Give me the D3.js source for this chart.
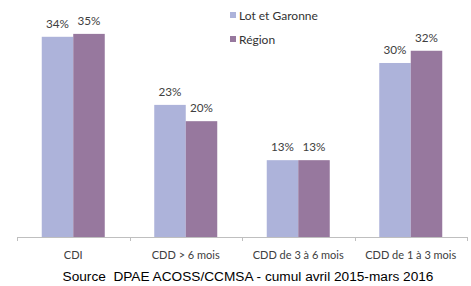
<!DOCTYPE html>
<html><head><meta charset="utf-8">
<script src="https://cdn.jsdelivr.net/npm/d3@7"></script>
<style>body{margin:0;background:#fff}svg{display:block}</style>
</head><body>
<script>
const categories = ["CDI", "CDD > 6 mois", "CDD de 3 à 6 mois", "CDD de 1 à 3 mois"];
const seriesNames = ["Lot et Garonne", "Région"];
const lotEtGaronne = [34.4, 22.7, 13.2, 29.9];
const region = [34.9, 19.9, 13.2, 32.0];
const colors = ["#adb3da", "#97789e"];
const sourceText = "Source  DPAE ACOSS/CCMSA - cumul avril 2015-mars 2016";

const W = 471, H = 286;
const svg = d3.select("body").append("svg").attr("width", W).attr("height", H);
const font = "Lato, 'Open Sans', sans-serif";

// fit a text selection's font size so that a reference node reaches a target width
function fitWidth(sel, refNode, base, target) {
  const w = refNode.getComputedTextLength();
  const fs = base * target / w;
  sel.attr("font-size", fs.toFixed(2));
}

const x = d3.scaleBand().domain(categories).range([17, 467]).paddingInner(0.44).paddingOuter(0.22);
const xs = d3.scaleBand().domain(seriesNames).range([0, x.bandwidth()]);
const y = d3.scaleLinear().domain([0, 40]).range([237, 237 - 40 * 5.82]);

const series = [lotEtGaronne, region];
const fmt = v => d3.format(".0f")(v) + "%";

const labelNodes = [];
series.forEach((vals, si) => {
  const g = svg.append("g");
  g.selectAll("rect").data(vals).join("rect")
    .attr("x", (d, i) => x(categories[i]) + xs(seriesNames[si]))
    .attr("y", d => y(d))
    .attr("width", xs.bandwidth())
    .attr("height", d => y(0) - y(d))
    .attr("fill", colors[si]);
  const t = g.selectAll("text").data(vals).join("text")
    .attr("class", "vlabel")
    .attr("x", (d, i) => x(categories[i]) + xs(seriesNames[si]) + xs.bandwidth() / 2)
    .attr("y", d => y(d) - 9)
    .attr("text-anchor", "middle")
    .attr("font-family", font).attr("font-size", 11).attr("fill", "#404040")
    .text(d => fmt(d));
});
const vlabels = svg.selectAll(".vlabel");
fitWidth(vlabels, vlabels.node(), 11, 23);

// axis
const step = x.step();
const x0 = x.range()[0];
svg.append("line").attr("x1", x0).attr("x2", x.range()[1]).attr("y1", y(0) + 0.5).attr("y2", y(0) + 0.5)
  .attr("stroke", "#bfbfbf").attr("stroke-width", 1);
d3.range(categories.length + 1).forEach(i => {
  const xx = Math.round(x0 + i * step) + 0.5;
  svg.append("line").attr("x1", xx).attr("x2", xx).attr("y1", y(0)).attr("y2", y(0) + 4)
    .attr("stroke", "#bfbfbf");
});
svg.selectAll(".cat").data(categories).join("text")
  .attr("class", "cat")
  .attr("x", d => x(d) + x.bandwidth() / 2)
  .attr("y", 259)
  .attr("text-anchor", "middle")
  .attr("font-family", font).attr("font-size", 11).attr("fill", "#404040")
  .text(d => d);

// legend
const legTexts = [];
seriesNames.forEach((n, i) => {
  svg.append("rect").attr("x", 230).attr("y", 12 + i * 24).attr("width", 6).attr("height", 6).attr("fill", colors[i]);
  legTexts.push(svg.append("text").attr("class", "leg").attr("x", 239).attr("y", 19.5 + i * 24)
    .attr("font-family", font).attr("font-size", 12).attr("fill", "#333").text(n));
});
const legSel = svg.selectAll(".leg");
fitWidth(legSel, legSel.node(), 12, 79);

const src = svg.append("text").attr("x", 248).attr("y", 281).attr("text-anchor", "middle")
  .attr("font-family", "'Liberation Sans', Arial, sans-serif").attr("font-size", 12.5).attr("fill", "#000")
  .style("white-space", "pre")
  .text(sourceText);
fitWidth(src, src.node(), 12.5, 371);
</script>
</body></html>
